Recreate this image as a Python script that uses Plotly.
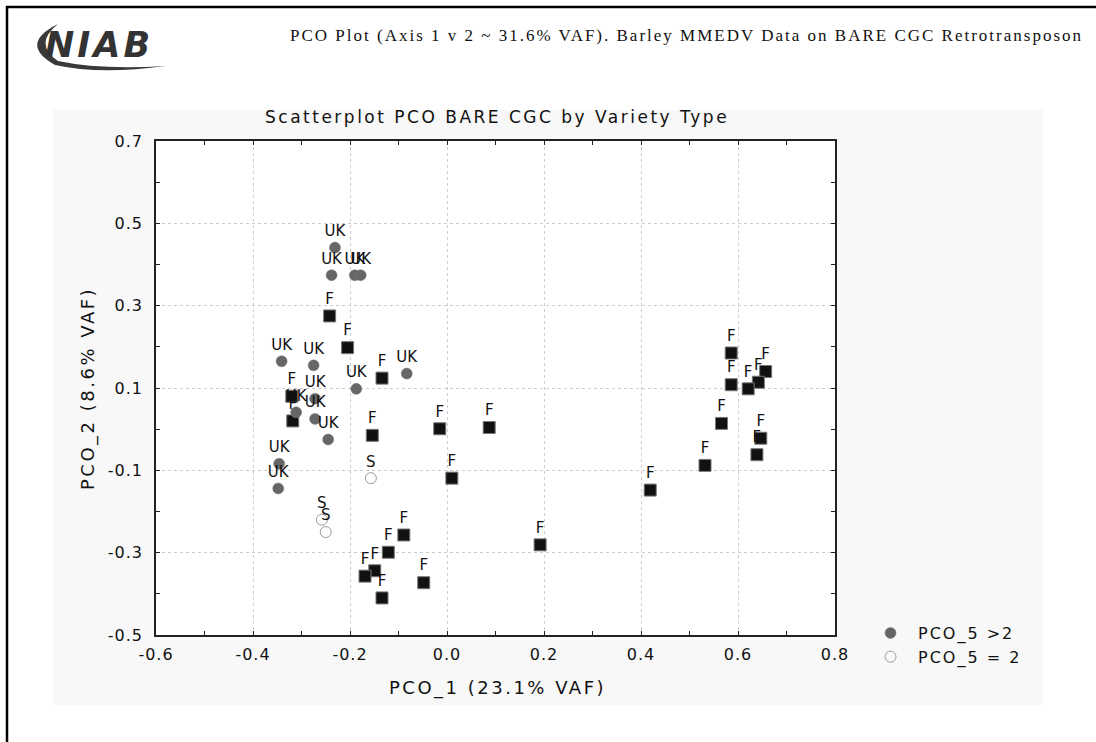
import plotly.graph_objects as go

# F squares (no legend entry)
f_x = [-0.242, -0.205, -0.134, -0.320, -0.318, -0.154, -0.015, 0.087, 0.010,
       -0.089, -0.121, -0.149, -0.169, -0.134, -0.048, 0.192, 0.419, 0.532,
       0.586, 0.586, 0.657, 0.642, 0.621, 0.566, 0.647, 0.639]
f_y = [0.275, 0.198, 0.124, 0.080, 0.020, -0.015, 0.001, 0.004, -0.119,
       -0.257, -0.299, -0.344, -0.357, -0.410, -0.373, -0.281, -0.148, -0.088,
       0.185, 0.108, 0.140, 0.114, 0.098, 0.014, -0.022, -0.062]

# UK grey circles (PCO_5 >2)
uk_x = [-0.231, -0.238, -0.190, -0.178, -0.341, -0.275, -0.083, -0.187,
        -0.272, -0.311, -0.272, -0.245, -0.346, -0.348]
uk_y = [0.441, 0.374, 0.374, 0.374, 0.165, 0.155, 0.135, 0.098,
        0.074, 0.041, 0.025, -0.025, -0.084, -0.144]

# S open circles (PCO_5 = 2)
s_x = [-0.157, -0.258, -0.250]
s_y = [-0.119, -0.220, -0.250]

x_ticks = [-0.6, -0.4, -0.2, 0.0, 0.2, 0.4, 0.6, 0.8]
y_ticks = [-0.5, -0.3, -0.1, 0.1, 0.3, 0.5, 0.7]

SANS = "DejaVu Sans"
SERIF = "Liberation Serif"

# plot area in pixels: x 156..835, y 141..635
L, R, T, B = 156, 835, 141, 635
W, H = 1096, 742


def px(x):
    return (x - L) / (R - L)


def py(y):
    return (B - y) / (B - T)


def spaced(s, sp):
    return f'<span style="letter-spacing:{sp}px">{s}</span>'


fig = go.Figure()

lab_font = dict(family=SANS, size=15, color="#111")
uk_marker = dict(symbol="circle", size=11, color="#666666", line=dict(color="#777", width=0.5))
s_marker = dict(symbol="circle-open", size=11, color="#999999", line=dict(width=1))
f_marker = dict(symbol="square", size=12, color="#111111", line=dict(color="#777", width=1))

fig.add_trace(go.Scatter(x=f_x, y=f_y, mode="markers+text", text=["F"] * len(f_x),
                         textposition="top center", textfont=lab_font,
                         marker=f_marker, showlegend=False))
fig.add_trace(go.Scatter(x=uk_x, y=uk_y, mode="markers+text", text=["UK"] * len(uk_x),
                         textposition="top center", textfont=lab_font,
                         marker=uk_marker, showlegend=False))
fig.add_trace(go.Scatter(x=s_x, y=s_y, mode="markers+text", text=["S"] * len(s_x),
                         textposition="top center", textfont=lab_font,
                         marker=s_marker, showlegend=False))

# legend entries
fig.add_trace(go.Scatter(x=[None], y=[None], mode="markers", name=spaced("PCO_5 &gt;2", 2),
                         marker=uk_marker))
fig.add_trace(go.Scatter(x=[None], y=[None], mode="markers", name=spaced("PCO_5 = 2", 2),
                         marker=s_marker))

axis_common = dict(showline=True, linecolor="#222", linewidth=1.5, mirror="ticks",
                   ticks="inside", ticklen=4, tickcolor="#222",
                   showgrid=True, gridcolor="#cccccc", griddash="dot", gridwidth=1,
                   zeroline=False, tickfont=dict(family=SANS, size=16, color="#111"),
                   minor=dict(ticks="inside", ticklen=4, tickcolor="#222", dtick=0.1,
                              showgrid=False))

fig.update_xaxes(range=[-0.6, 0.8], tickvals=x_ticks,
                 ticktext=[spaced(f"{v:.1f}", 1) for v in x_ticks], ticklabelstandoff=4,
                 **axis_common)
fig.update_yaxes(range=[-0.5, 0.7], tickvals=y_ticks,
                 ticktext=[spaced(f"{v:.1f}", 1) for v in y_ticks], ticklabelstandoff=8,
                 **axis_common)

shapes = [
    # light panel
    dict(type="rect", xref="paper", yref="paper", layer="below",
         x0=px(53), x1=px(1043), y0=py(705), y1=py(110),
         fillcolor="#f8f8f8", line=dict(width=0)),
    # white plot area
    dict(type="rect", xref="paper", yref="paper", layer="below",
         x0=0, x1=1, y0=0, y1=1, fillcolor="white", line=dict(width=0)),
    # page frame (left + top)
    dict(type="rect", xref="paper", yref="paper", layer="above",
         x0=px(7), x1=px(1200), y0=py(900), y1=py(7),
         line=dict(color="#000", width=2.5)),
    # NIAB swoosh
    dict(type="path", xref="paper", yref="paper", layer="above",
         path=(f"M {px(58)} {py(24)} Q {px(18)} {py(44)} {px(55)} {py(65)} "
               f"Q {px(100)} {py(75)} {px(166)} {py(66)} "
               f"Q {px(100)} {py(70)} {px(58)} {py(61)} "
               f"Q {px(33)} {py(44)} {px(58)} {py(24)} Z"),
         fillcolor="#3a3a3a", line=dict(width=0)),
]

ann_common = dict(xref="paper", yref="paper", showarrow=False, xanchor="center", yanchor="middle")

annotations = [
    dict(text=spaced("<b><i>NIAB</i></b>", 3), x=px(99), y=py(45),
         font=dict(family=SANS, size=35, color="#333"), **ann_common),
    dict(text=spaced("PCO Plot (Axis 1 v 2 ~ 31.6% VAF). Barley MMEDV Data on BARE CGC Retrotransposon", 2),
         x=px(686), y=py(36), font=dict(family=SERIF, size=17, color="#111"), **ann_common),
    dict(text=spaced("Scatterplot PCO BARE CGC by Variety Type", 2.5), x=px(497), y=py(117),
         font=dict(family=SANS, size=17, color="#111"), **ann_common),
    dict(text=spaced("PCO_1 (23.1% VAF)", 2.5), x=px(497), y=py(688),
         font=dict(family=SANS, size=18, color="#111"), **ann_common),
    dict(text=spaced("PCO_2 (8.6% VAF)", 2.5), x=px(88), y=py(389), textangle=-90,
         font=dict(family=SANS, size=18, color="#111"), **ann_common),
]

fig.update_layout(
    width=W, height=H,
    margin=dict(l=L, r=W - R, t=T, b=H - B),
    paper_bgcolor="white", plot_bgcolor="white",
    shapes=shapes, annotations=annotations,
    legend=dict(x=px(863), y=py(616), xanchor="left", yanchor="top",
                bgcolor="rgba(0,0,0,0)", font=dict(family=SANS, size=16, color="#111"),
                tracegroupgap=0, itemwidth=45),
    showlegend=True,
)

fig.write_html("out.html", config={"displayModeBar": False},
               post_script="document.body.style.margin='0';")
